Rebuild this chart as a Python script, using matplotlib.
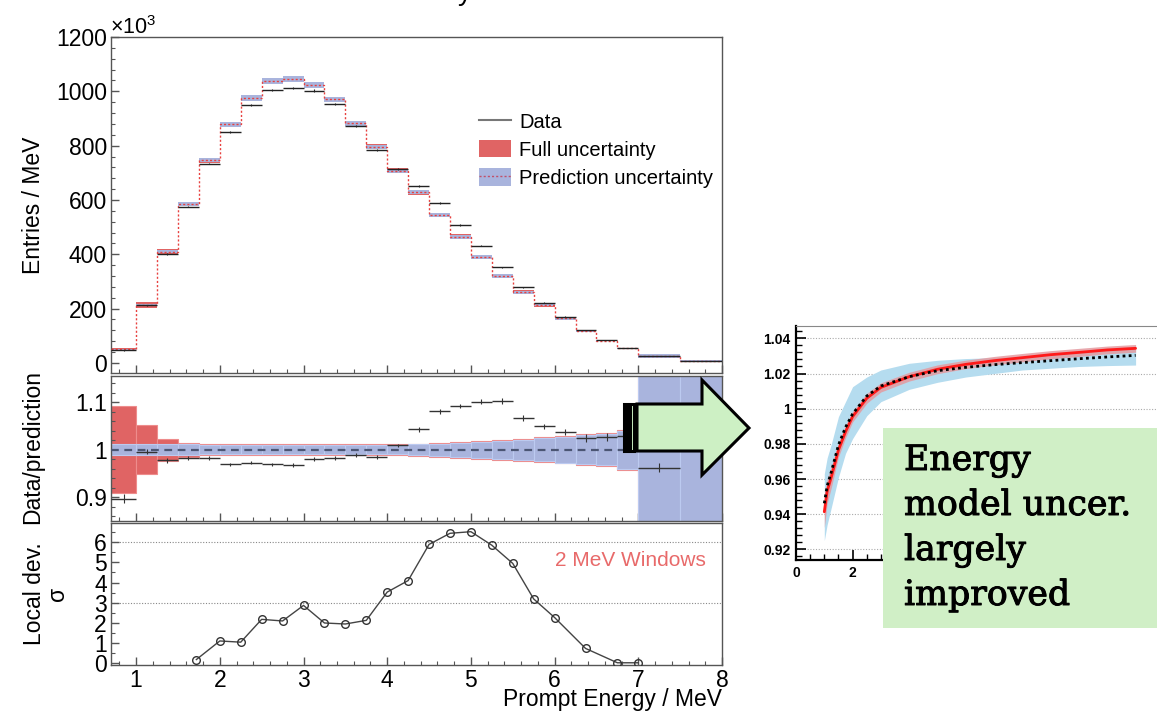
import numpy as np
import matplotlib
matplotlib.use("Agg")
import matplotlib.pyplot as plt
import matplotlib.patheffects as pe
from matplotlib.patches import Polygon, Rectangle, Patch
from matplotlib.lines import Line2D
from matplotlib.ticker import MultipleLocator, FixedLocator, FuncFormatter

plt.rcParams["font.family"] = ["Liberation Sans", "DejaVu Sans"]
plt.rcParams["mathtext.fontset"] = "custom"
plt.rcParams["mathtext.rm"] = "Liberation Sans"

# ---------------- spectrum (entries per MeV, in units of 10^3) ----------------
bin_edges = [0.7, 1.0, 1.25, 1.5, 1.75, 2.0, 2.25, 2.5, 2.75, 3.0, 3.25, 3.5, 3.75,
             4.0, 4.25, 4.5, 4.75, 5.0, 5.25, 5.5, 5.75, 6.0, 6.25, 6.5, 6.75,
             7.0, 7.5, 8.0]
prediction = [50, 213, 410, 585, 746, 878, 975, 1037, 1045, 1023, 970, 882, 796,
              708, 628, 545, 465, 391, 320, 261, 213, 164, 118, 82, 54, 26, 8.5]
data_rate = [46, 212, 401, 575, 734, 851, 949, 1005, 1012, 1003, 953, 871, 783,
             714, 651, 589, 508, 431, 352, 278, 222, 170, 121, 84, 56, 25, 8.5]

# ---------------- ratio panel ----------------
ratio = [0.897, 0.996, 0.978, 0.983, 0.982, 0.969, 0.973, 0.969, 0.968, 0.981,
         0.983, 0.988, 0.984, 1.009, 1.043, 1.081, 1.092, 1.101, 1.103, 1.066,
         1.049, 1.037, 1.024, 1.027, 1.028, 0.962, 1.000]
ratio_err = [0.010, 0.006, 0.005, 0.004, 0.004, 0.004, 0.004, 0.004, 0.004, 0.004,
             0.004, 0.004, 0.004, 0.004, 0.005, 0.005, 0.005, 0.005, 0.006, 0.006,
             0.006, 0.007, 0.008, 0.009, 0.010, 0.009, 0.020]
full_unc = [0.092, 0.051, 0.023, 0.0145, 0.012, 0.011, 0.011, 0.011, 0.011, 0.011,
            0.011, 0.011, 0.011, 0.012, 0.013, 0.015, 0.017, 0.019, 0.021, 0.023,
            0.026, 0.029, 0.032, 0.035, 0.042, 0.30, 0.30]
pred_unc = [0.011, 0.012, 0.011, 0.011, 0.010, 0.010, 0.010, 0.010, 0.010, 0.010,
            0.010, 0.010, 0.010, 0.010, 0.011, 0.013, 0.015, 0.017, 0.019, 0.021,
            0.024, 0.027, 0.030, 0.033, 0.040, 0.30, 0.30]

# ---------------- local significance, 2 MeV sliding windows ----------------
window_centre = [1.72, 2.0, 2.25, 2.5, 2.75, 3.0, 3.25, 3.5, 3.75, 4.0, 4.25, 4.5,
                 4.75, 5.0, 5.25, 5.5, 5.75, 6.0, 6.37, 6.75, 7.0]
local_sigma = [0.19, 1.11, 1.05, 2.18, 2.10, 2.87, 2.00, 1.95, 2.13, 3.53, 4.10,
               5.89, 6.44, 6.52, 5.85, 4.95, 3.19, 2.27, 0.74, 0.03, 0.03]

# ---------------- energy non-linearity inset ----------------
inset_energy = [1.0, 1.1, 1.25, 1.5, 1.75, 2.0, 2.5, 3.0, 4.0, 5.0, 6.0, 7.0, 8.0,
                9.0, 10.0, 11.0, 12.0]
nl_best = [0.9414, 0.953, 0.9613, 0.9765, 0.9869, 0.9955, 1.0059, 1.0121, 1.0182,
           1.0224, 1.0252, 1.0273, 1.029, 1.0307, 1.032, 1.0334, 1.0343]
nl_best_err = [0.009, 0.007, 0.006, 0.004, 0.0035, 0.003, 0.0028, 0.0026, 0.0025,
               0.0025, 0.0024, 0.0024, 0.0024, 0.0023, 0.0023, 0.0022, 0.0022]
nl_alt = [0.9462, 0.956, 0.9642, 0.9793, 0.9894, 0.997, 1.0072, 1.0129, 1.0182,
          1.0216, 1.0235, 1.025, 1.0262, 1.0273, 1.0284, 1.0294, 1.0303]
nl_band_lo = [0.925, 0.934, 0.944, 0.961, 0.9746, 0.983, 0.996, 1.004, 1.011, 1.015,
              1.018, 1.020, 1.022, 1.023, 1.024, 1.0245, 1.0248]
nl_band_hi = [0.963, 0.972, 0.980, 0.9955, 1.004, 1.0125, 1.018, 1.022, 1.0258,
              1.0275, 1.0285, 1.029, 1.0296, 1.031, 1.0325, 1.034, 1.0356]

legend_labels = ["Data", "Full uncertainty", "Prediction uncertainty"]
note_lines = ["Energy", "model uncer.", "largely", "improved"]

RED = "#e06464"
BLUE = "#a9b4dd"
PRED_LINE = "#e8413f"
FRAME = "#555555"

W, H = 1157, 711
fig = plt.figure(figsize=(W / 100, H / 100), dpi=100)


def px_box(left, top, right, bottom):
    return [left / W, 1 - bottom / H, (right - left) / W, (bottom - top) / H]


def fx(x):
    return x / W


def fy(y):
    return 1 - y / H


def root_frame(ax):
    for s in ax.spines.values():
        s.set_color(FRAME)
        s.set_linewidth(1.0)
    ax.tick_params(which="both", direction="in", top=False, right=False,
                   colors=FRAME, labelcolor="black", labelsize=16.5)
    ax.tick_params(which="major", length=6, width=1.0, pad=3)
    ax.tick_params(which="minor", length=3, width=0.8)
    ax.set_xlim(0.7, 8)
    ax.xaxis.set_major_locator(MultipleLocator(1))
    ax.xaxis.set_minor_locator(MultipleLocator(0.2))


gfmt = FuncFormatter(lambda v, p: f"{v:g}")

edges = np.array(bin_edges)
lefts = edges[:-1]
rights = edges[1:]
widths = np.diff(edges)
centres = 0.5 * (lefts + rights)
pred = np.array(prediction)
full = np.array(full_unc)
pu = np.array(pred_unc)
rerr = np.array(ratio_err)

# ---------------- top: spectrum ----------------
ax_top = fig.add_axes(px_box(111, 37, 722, 373))
root_frame(ax_top)
ax_top.bar(lefts, 2 * pred * full, width=widths, bottom=pred * (1 - full),
           align="edge", color=RED, edgecolor="none", zorder=1)
ax_top.bar(lefts, 2 * pred * pu, width=widths, bottom=pred * (1 - pu),
           align="edge", color=BLUE, edgecolor="none", zorder=2)
ax_top.stairs(pred, edges, baseline=None, color=PRED_LINE, ls=(0, (1.5, 1.5)),
              lw=1.0, zorder=3)
ax_top.hlines(data_rate, lefts, rights, color="#222222", lw=1.0, zorder=4)
ax_top.errorbar(centres, data_rate, yerr=rerr * pred, fmt="none",
                ecolor="#222222", elinewidth=0.8, zorder=4)
ax_top.set_ylim(-37, 1200)
ax_top.yaxis.set_major_locator(MultipleLocator(200))
ax_top.yaxis.set_minor_locator(MultipleLocator(40))
ax_top.yaxis.set_major_formatter(gfmt)
ax_top.tick_params(axis="x", labelbottom=False)

handles = [Line2D([], [], color="#777777", lw=1.5),
           Patch(facecolor=RED, edgecolor="none"),
           (Patch(facecolor=BLUE, edgecolor="none"),
            Line2D([], [], color="#c0506a", ls=(0, (1.5, 1.5)), lw=1.0))]
fig.legend(handles, legend_labels, loc="upper left",
           bbox_to_anchor=(fx(479), fy(112)), frameon=False, fontsize=14.5,
           handlelength=1.6, handleheight=0.95, handletextpad=0.4,
           labelspacing=0.42, borderpad=0, borderaxespad=0)

fig.text(fx(110), fy(34), r"$\times10^{3}$", fontsize=15.5, ha="left",
         va="baseline")

# ---------------- middle: data / prediction ----------------
ax_rat = fig.add_axes(px_box(111, 376, 722, 521))
root_frame(ax_rat)
ax_rat.bar(lefts, 2 * full, width=widths, bottom=1 - full, align="edge",
           color=RED, edgecolor="#ee8c8c", lw=0.8, zorder=1)
ax_rat.bar(lefts, 2 * pu, width=widths, bottom=1 - pu, align="edge",
           color=BLUE, edgecolor="#bccaf0", lw=0.8, zorder=2)
ax_rat.axhline(1.0, color="#4b5573", lw=1.6, ls=(0, (3.5, 2.5)), zorder=3)
ax_rat.hlines(ratio, lefts, rights, color="#333333", lw=1.0, zorder=4)
ax_rat.errorbar(centres, ratio, yerr=rerr, fmt="none", ecolor="#333333",
                elinewidth=0.8, zorder=4)
ax_rat.set_ylim(0.85, 1.155)
ax_rat.yaxis.set_major_locator(FixedLocator([0.9, 1.0, 1.1]))
ax_rat.yaxis.set_minor_locator(MultipleLocator(0.02))
ax_rat.yaxis.set_major_formatter(gfmt)
ax_rat.tick_params(axis="x", labelbottom=False)

# ---------------- bottom: local deviation ----------------
ax_sig = fig.add_axes(px_box(111, 523, 722, 665))
root_frame(ax_sig)
for lvl in (3, 6):
    ax_sig.axhline(lvl, color="#888888", lw=0.8, ls=(0, (1, 1.5)), zorder=1)
ax_sig.plot(window_centre, local_sigma, color="#444444", lw=1.0, marker="o",
            ms=5.5, mfc="none", mec="#333333", mew=1.0, zorder=3)
ax_sig.set_ylim(-0.08, 6.95)
ax_sig.yaxis.set_major_locator(MultipleLocator(1))
ax_sig.yaxis.set_minor_locator(MultipleLocator(0.5))
ax_sig.yaxis.set_major_formatter(gfmt)
ax_sig.tick_params(axis="x", pad=3)
fig.text(fx(706), fy(561), "2 MeV Windows", color="#e86a6a", fontsize=15,
         ha="right", va="center")

# axis titles
fig.text(fx(33), fy(205), "Entries / MeV", rotation=90, ha="center",
         va="center", fontsize=16.5)
fig.text(fx(33), fy(447), "Data/prediction", rotation=90, ha="center",
         va="center", fontsize=16.5)
fig.text(fx(46), fy(594), "Local dev.\n\u03c3", rotation=90, ha="center",
         va="center", fontsize=16.5, linespacing=1.0, multialignment="center")
fig.text(fx(722), fy(706), "Prompt Energy / MeV", ha="right", va="baseline",
         fontsize=16.5)
fig.text(fx(465), 1.0, "y", ha="center", va="baseline", fontsize=20)

# ---------------- inset: energy non-linearity ----------------
ax_in = fig.add_axes(px_box(796, 326, 796 + 14 * 28.3, 560))
ax_in.set_xlim(0, 14)
ax_in.set_ylim(0.914, 1.047)
ax_in.fill_between(inset_energy, nl_band_lo, nl_band_hi, color="#b5dcef",
                   lw=0, zorder=1)
best = np.array(nl_best)
berr = np.array(nl_best_err)
ax_in.fill_between(inset_energy, best - berr, best + berr, color="#e49aa0",
                   alpha=0.85, lw=0, zorder=2)
ax_in.plot(inset_energy, nl_best, color="#ff1a1a", lw=2.0, zorder=3,
           solid_capstyle="round")
ax_in.plot(inset_energy, nl_alt, color="black", lw=2.0, ls=(0, (1, 1.2)),
           zorder=4)
ax_in.yaxis.set_major_locator(MultipleLocator(0.02))
ax_in.yaxis.set_minor_locator(MultipleLocator(0.004))
ax_in.xaxis.set_major_locator(MultipleLocator(2))
ax_in.xaxis.set_minor_locator(MultipleLocator(0.5))
ax_in.yaxis.set_major_formatter(gfmt)
ax_in.grid(axis="y", color="#aaaaaa", lw=0.8, ls=(0, (1, 1.5)))
ax_in.set_axisbelow(True)
ax_in.tick_params(which="both", direction="in", top=False, right=False,
                  labelsize=10, pad=4)
ax_in.tick_params(which="major", length=7, width=1.2)
ax_in.tick_params(which="minor", length=4, width=1.0)
for lab in ax_in.get_xticklabels() + ax_in.get_yticklabels():
    lab.set_fontweight("bold")
ax_in.spines["left"].set_linewidth(1.6)
ax_in.spines["bottom"].set_linewidth(1.6)
ax_in.spines["top"].set_color("#888888")
ax_in.spines["top"].set_linewidth(0.8)
ax_in.spines["right"].set_visible(False)

# ---------------- striped block arrow ----------------
def px_poly(points, **kw):
    pts = [(fx(x), fy(y)) for x, y in points]
    return Polygon(pts, closed=True, transform=fig.transFigure, **kw)


arrow_style = dict(facecolor="#cdf0c4", edgecolor="black", lw=2.2,
                   joinstyle="miter", zorder=6)
fig.add_artist(px_poly([(624, 404), (627, 404), (627, 451), (624, 451)],
                       **arrow_style))
fig.add_artist(px_poly([(630, 404), (634, 404), (634, 451), (630, 451)],
                       **arrow_style))
fig.add_artist(px_poly([(637, 404), (702, 404), (702, 380), (749, 428),
                        (702, 475), (702, 451), (637, 451)], **arrow_style))

# ---------------- note box ----------------
fig.add_artist(Rectangle((fx(883), fy(628)), fx(1160) - fx(883),
                         fy(428) - fy(628), transform=fig.transFigure,
                         facecolor="#d0efc6", edgecolor="none", zorder=6))
heavier = [pe.withStroke(linewidth=0.7, foreground="black")]
for i, line in enumerate(note_lines):
    fig.text(fx(904), fy(470 + 45 * i), line, ha="left", va="baseline",
             fontsize=25, family="DejaVu Serif", color="black", zorder=7,
             path_effects=heavier)

fig.savefig("out.png", dpi=100)
